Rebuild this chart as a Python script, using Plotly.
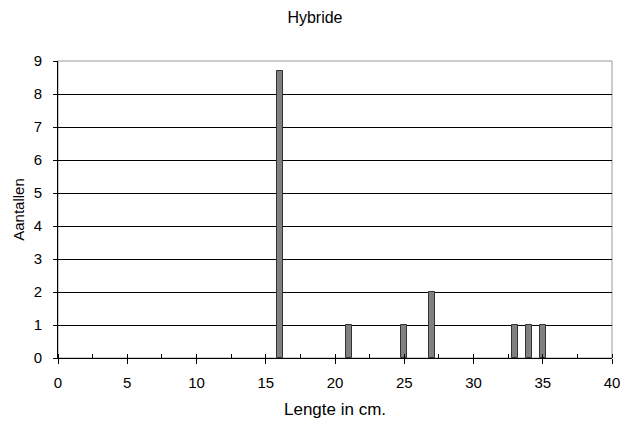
import plotly.graph_objects as go

# Length classes (cm) and their counts
lengths = [16, 21, 25, 27, 33, 34, 35]
counts = [8.7, 1, 1, 2, 1, 1, 1]

x_ticks = [0, 5, 10, 15, 20, 25, 30, 35, 40]
y_ticks = [0, 1, 2, 3, 4, 5, 6, 7, 8, 9]

FONT = "Liberation Sans, Arial, sans-serif"
TICK_SIZE = 15

fig = go.Figure()
fig.add_trace(go.Bar(
    x=lengths,
    y=counts,
    width=0.43,
    marker=dict(color="#808080", line=dict(color="#333333", width=1)),
    showlegend=False,
))

fig.update_layout(
    width=635,
    height=423,
    margin=dict(l=58, r=23, t=61, b=65),
    paper_bgcolor="white",
    plot_bgcolor="white",
    font=dict(family=FONT, size=TICK_SIZE, color="black"),
    title=dict(text="Hybride", x=0.496, xanchor="center", y=0.958, yanchor="middle",
               font=dict(family=FONT, size=16, color="black")),
    bargap=0,
    shapes=[dict(type="rect", xref="paper", yref="paper", x0=0, x1=1, y0=0, y1=1,
                 line=dict(color="#999999", width=1), layer="below")],
)

fig.update_xaxes(
    range=[0, 40],
    tickvals=x_ticks,
    ticks="outside",
    ticklen=5,
    tickcolor="black",
    ticklabelstandoff=6,
    showline=True,
    linecolor="black",
    linewidth=1,
    showgrid=False,
    zeroline=False,
    automargin=False,
    minor=dict(dtick=2.5, ticks="inside", ticklen=4, tickcolor="black", showgrid=False),
    title=dict(text="Lengte in cm.", standoff=13, font=dict(family=FONT, size=17)),
    tickfont=dict(family=FONT, size=TICK_SIZE),
)

fig.update_yaxes(
    range=[0, 9],
    tickvals=y_ticks,
    ticks="outside",
    ticklen=4,
    tickcolor="black",
    ticklabelstandoff=8,
    showline=True,
    linecolor="black",
    linewidth=1,
    showgrid=True,
    gridcolor="black",
    gridwidth=1,
    zeroline=False,
    automargin=False,
    title=dict(text="Aantallen", standoff=5, font=dict(family=FONT, size=15)),
    tickfont=dict(family=FONT, size=TICK_SIZE),
)

fig.write_html("out.html")
